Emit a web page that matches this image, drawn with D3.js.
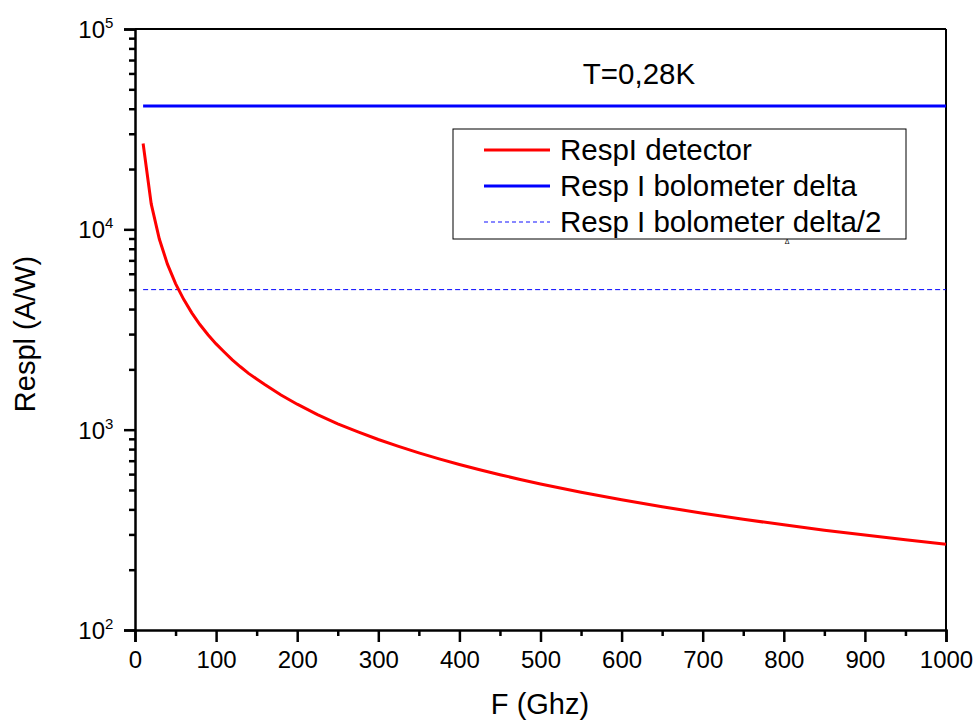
<!DOCTYPE html>
<html>
<head>
<meta charset="utf-8">
<script src="https://cdn.jsdelivr.net/npm/d3@7"></script>
<style>
  body { margin: 0; background: #fff; }
  text { font-family: "Liberation Sans", Arial, sans-serif; fill: #000; }
</style>
</head>
<body>
<svg width="976" height="720"></svg>
<script>
// values
var freq = [10, 20, 30, 40, 50, 60, 70, 80, 90, 100, 110, 120, 130, 140, 150, 160, 180, 200, 225, 250, 275, 300, 325, 350, 375, 400, 425, 450, 475, 500, 550, 600, 650, 700, 750, 800, 850, 900, 950, 1000];
var respDetector = [26800, 13400, 8950, 6700, 5360, 4470, 3830, 3350, 2980, 2680, 2440, 2230, 2060, 1910, 1790, 1680, 1490, 1340, 1190, 1070, 975, 893, 825, 766, 715, 670, 631, 596, 564, 536, 487, 447, 412, 383, 357, 335, 315, 298, 282, 268];
var bolFreq = [10, 1000];
var respBolDelta = [41300, 41300];
var respBolHalf = [5000, 5000];
var xTicks = [0, 100, 200, 300, 400, 500, 600, 700, 800, 900, 1000];
var yTicks = [100, 1000, 10000, 100000];
var legendNames = ["RespI detector", "Resp I bolometer delta", "Resp I bolometer delta/2"];

var svg = d3.select("svg"),
    mLeft = 135, mRight = 946, mTop = 29, mBottom = 630;

var x = d3.scaleLinear().domain([0, 1000]).range([mLeft, mRight]);
var y = d3.scaleLog().domain([100, 100000]).range([mBottom, mTop]);

// minor ticks
var xMinor = d3.range(50, 1000, 100);
var yMinor = [];
[100, 1000, 10000].forEach(function(d) {
    for (var k = 2; k <= 9; k++) yMinor.push(d * k);
});

// frame (top and right)
svg.append("line").attr("x1", mLeft).attr("x2", mRight).attr("y1", mTop).attr("y2", mTop)
    .attr("stroke", "#000").attr("stroke-width", 2);
svg.append("line").attr("x1", mRight).attr("x2", mRight).attr("y1", mTop).attr("y2", mBottom)
    .attr("stroke", "#000").attr("stroke-width", 2);

// x axis
var gx = svg.append("g").attr("transform", "translate(0," + mBottom + ")")
    .call(d3.axisBottom(x).tickValues(xTicks).tickSize(12).tickPadding(9).tickFormat(d3.format("d")));
gx.select(".domain").attr("stroke-width", 2.5);
gx.selectAll(".tick line").attr("stroke-width", 2.5);
gx.selectAll("text").attr("font-size", 24).attr("dy", "0.71em")
    .style("font-family", "Liberation Sans, Arial, sans-serif");
svg.append("g").attr("transform", "translate(0," + mBottom + ")")
    .call(d3.axisBottom(x).tickValues(xMinor).tickSize(6).tickFormat(""))
    .call(function(g) { g.select(".domain").remove(); g.selectAll("line").attr("stroke-width", 2.5); });

// y axis
var gy = svg.append("g").attr("transform", "translate(" + mLeft + ",0)")
    .call(d3.axisLeft(y).tickValues(yTicks).tickSize(11).tickFormat(""));
gy.select(".domain").attr("stroke-width", 2.5);
gy.selectAll(".tick line").attr("stroke-width", 2.5);
svg.append("g").attr("transform", "translate(" + mLeft + ",0)")
    .call(d3.axisLeft(y).tickValues(yMinor).tickSize(6).tickFormat(""))
    .call(function(g) { g.select(".domain").remove(); g.selectAll("line").attr("stroke-width", 2.5); });

// y tick labels 10^n
svg.append("g").selectAll("text").data(yTicks).enter().append("text")
    .attr("x", 105)
    .attr("y", function(d) { return y(d) + 9; })
    .attr("text-anchor", "end")
    .attr("font-size", 24)
    .text("10");
svg.append("g").selectAll("text").data(yTicks).enter().append("text")
    .attr("x", 105)
    .attr("y", function(d) { return y(d) - 1; })
    .attr("font-size", 15)
    .text(function(d) { return Math.round(Math.log10(d)); });

// lines
var line = d3.line().x(function(d) { return x(d[0]); }).y(function(d) { return y(d[1]); });

svg.append("path")
    .datum(d3.zip(bolFreq, respBolHalf))
    .attr("d", line).attr("fill", "none")
    .attr("stroke", "#0000ff").attr("stroke-width", 1).attr("stroke-dasharray", "5,3");

svg.append("path")
    .datum(d3.zip(bolFreq, respBolDelta))
    .attr("d", line).attr("fill", "none")
    .attr("stroke", "#0000ff").attr("stroke-width", 3);

svg.append("path")
    .datum(d3.zip(freq, respDetector))
    .attr("d", line).attr("fill", "none")
    .attr("stroke", "#ff0000").attr("stroke-width", 3);

// title inside plot
svg.append("text").attr("x", 639).attr("y", 84).attr("text-anchor", "middle")
    .attr("font-size", 29.5).text("T=0,28K");

// legend
var lg = svg.append("g");
lg.append("rect").attr("x", 453).attr("y", 129).attr("width", 453).attr("height", 110)
    .attr("fill", "#fff").attr("stroke", "#000").attr("stroke-width", 1);
var legStyles = [
    { color: "#ff0000", width: 3, dash: null },
    { color: "#0000ff", width: 3, dash: null },
    { color: "#6060ff", width: 1.5, dash: "4,3" }
];
legendNames.forEach(function(name, i) {
    var ly = 150 + i * 36;
    lg.append("line").attr("x1", 484).attr("x2", 550).attr("y1", ly).attr("y2", ly)
        .attr("stroke", legStyles[i].color).attr("stroke-width", legStyles[i].width)
        .attr("stroke-dasharray", legStyles[i].dash);
    lg.append("text").attr("x", 560).attr("y", ly + 10).attr("font-size", 29.5).text(name);
});
svg.append("text").attr("x", 787).attr("y", 244).attr("text-anchor", "middle")
    .attr("font-size", 7).text("\u0394");

// axis titles
svg.append("text").attr("x", 540).attr("y", 714).attr("text-anchor", "middle")
    .attr("font-size", 29).text("F (Ghz)");
svg.append("text").attr("transform", "translate(35,334) rotate(-90)")
    .attr("text-anchor", "middle").attr("font-size", 29).text("Respl (A/W)");
</script>
</body>
</html>
